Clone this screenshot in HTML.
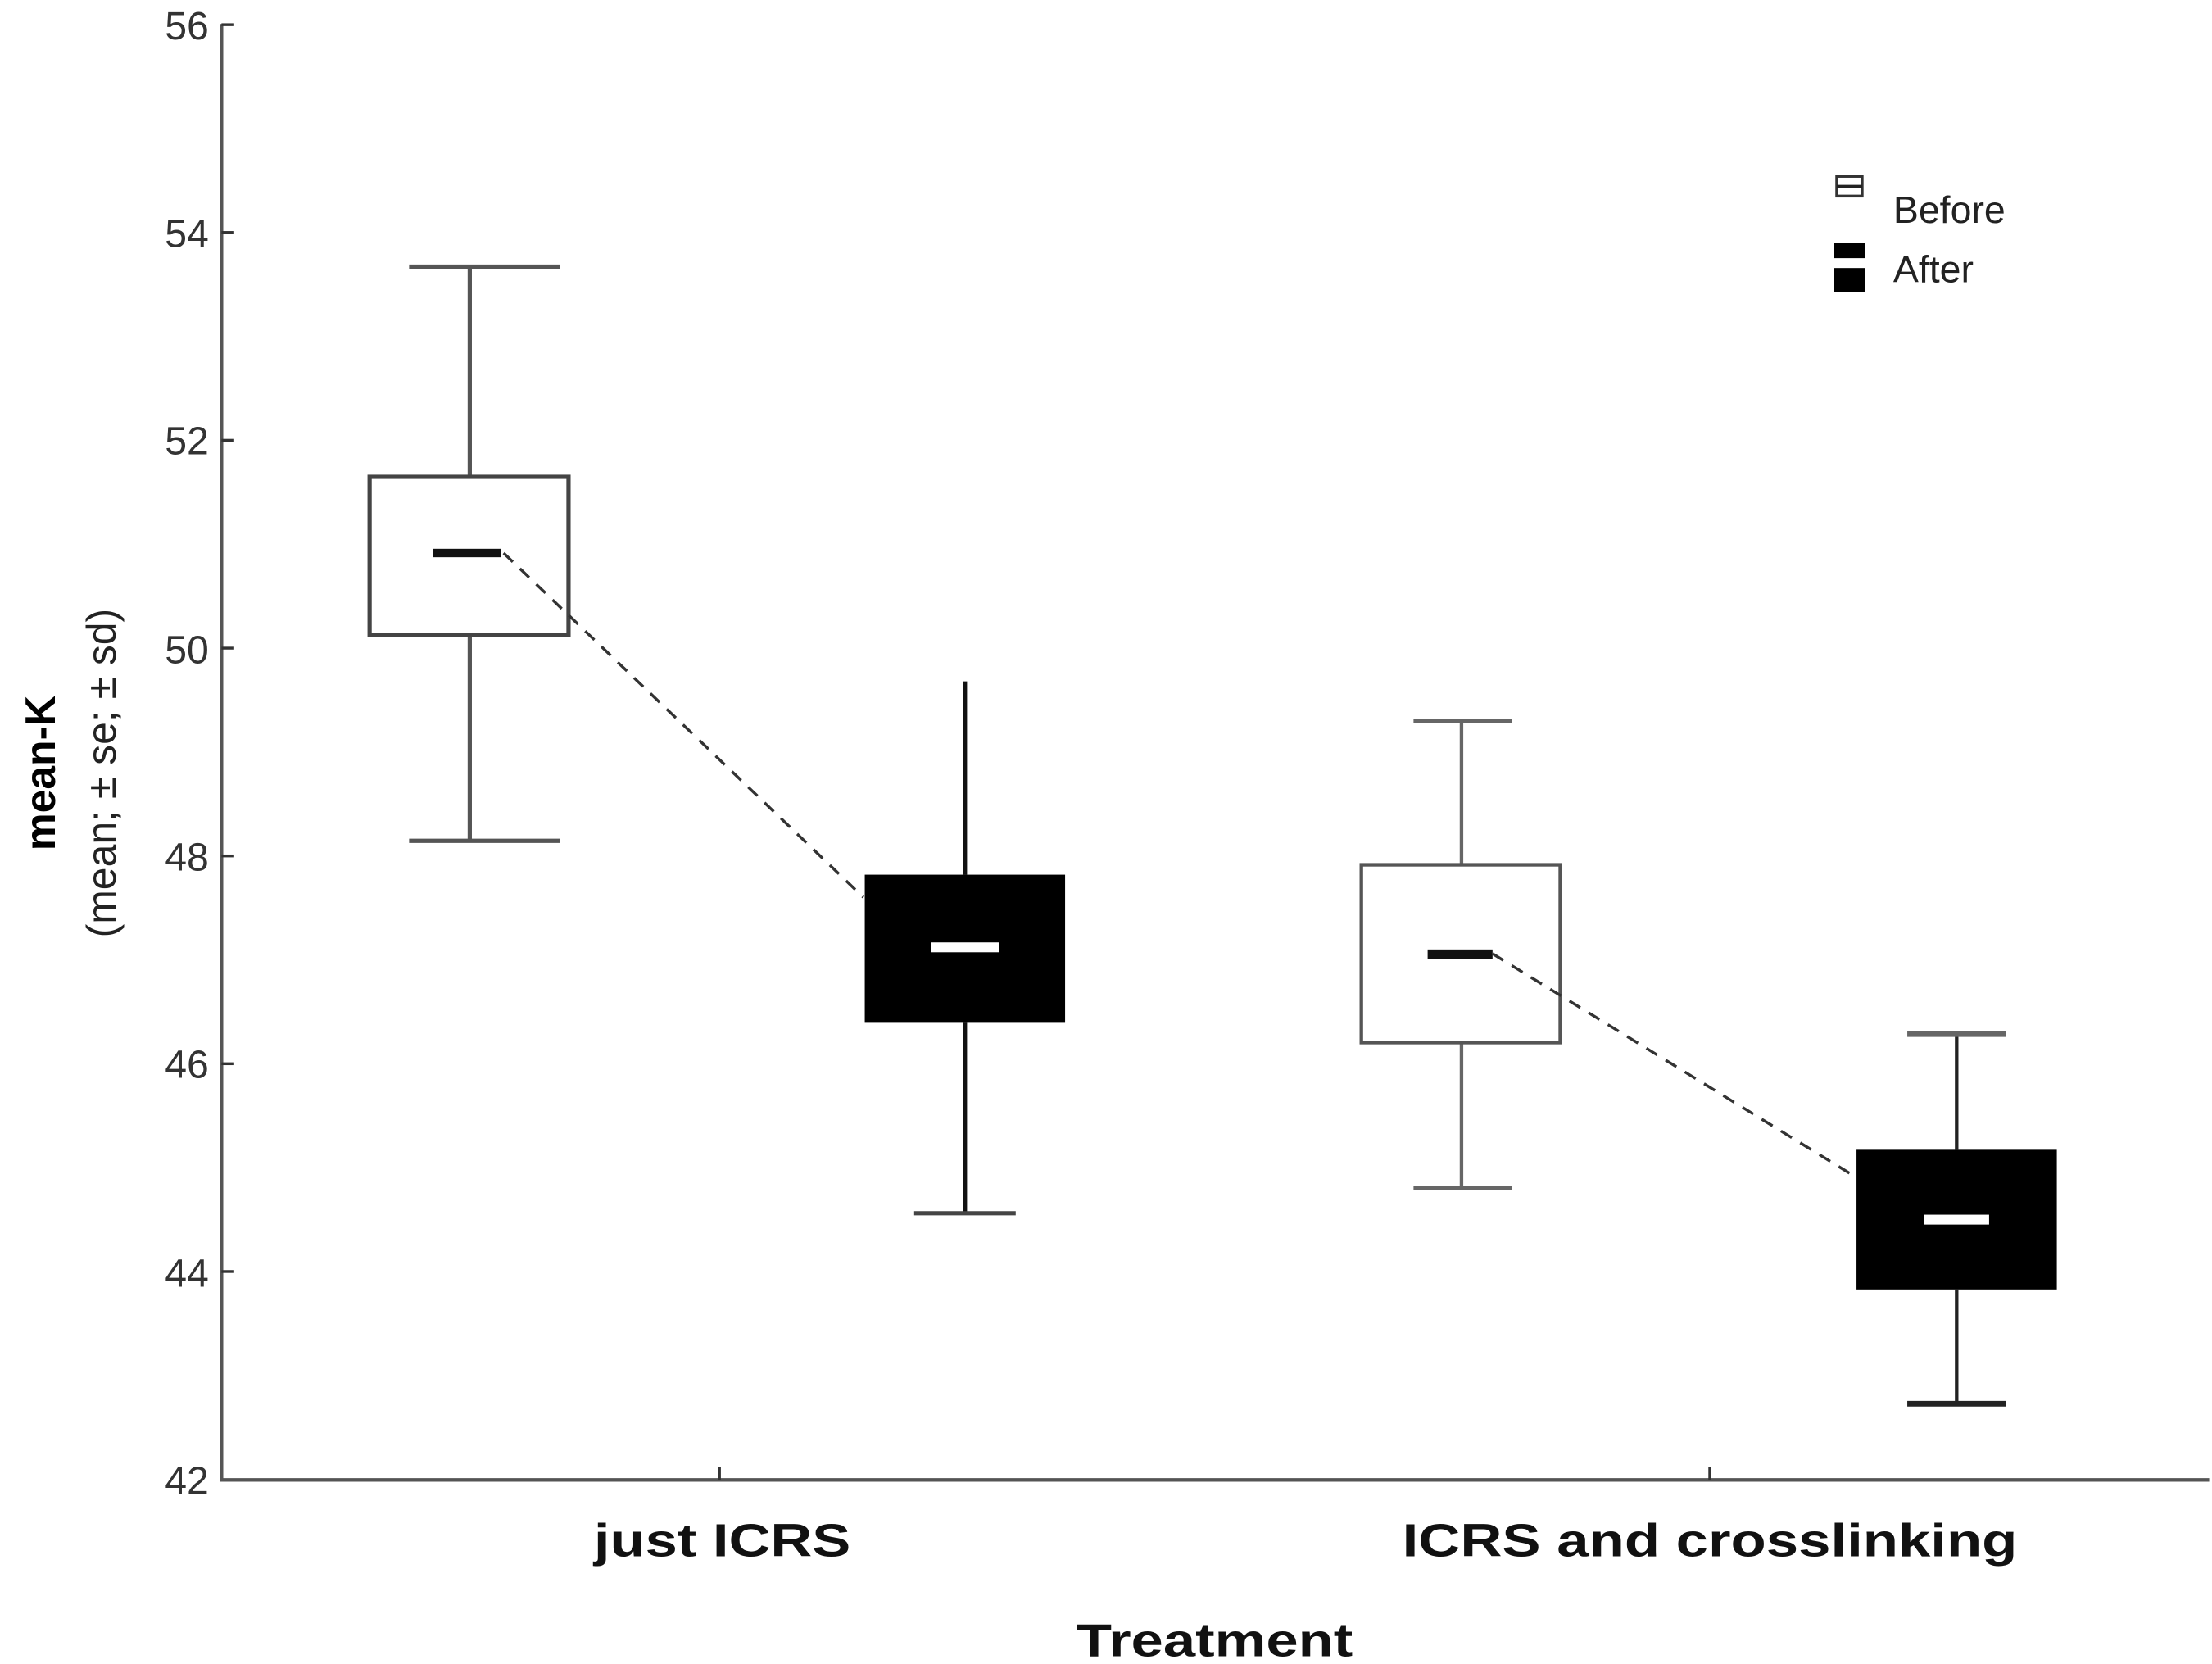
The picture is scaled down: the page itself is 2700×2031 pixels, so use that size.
<!DOCTYPE html>
<html><head><style>html,body{margin:0;padding:0;background:#fff}svg{display:block}</style></head>
<body>
<svg width="2700" height="2031" viewBox="0 0 1568 1179.5" preserveAspectRatio="none" xmlns="http://www.w3.org/2000/svg" font-family="Liberation Sans, sans-serif">
<rect width="1568" height="1179.5" fill="#fff"/>
<!-- axes -->
<line x1="157" y1="17" x2="157" y2="1049" stroke="#555" stroke-width="2.5"/>
<line x1="156" y1="1049" x2="1566" y2="1049" stroke="#555" stroke-width="2.5"/>
<g stroke="#333" stroke-width="2">
<line x1="157" y1="17.5" x2="166" y2="17.5"/>
<line x1="157" y1="164.8" x2="166" y2="164.8"/>
<line x1="157" y1="312.1" x2="166" y2="312.1"/>
<line x1="157" y1="459.4" x2="166" y2="459.4"/>
<line x1="157" y1="606.7" x2="166" y2="606.7"/>
<line x1="157" y1="754" x2="166" y2="754"/>
<line x1="157" y1="901.3" x2="166" y2="901.3"/>
<line x1="510" y1="1040" x2="510" y2="1049"/>
<line x1="1212" y1="1040" x2="1212" y2="1049"/>
</g>
<g font-size="28" fill="#333" text-anchor="end">
<text x="148" y="28">56</text>
<text x="148" y="175">54</text>
<text x="148" y="322">52</text>
<text x="148" y="470">50</text>
<text x="148" y="617">48</text>
<text x="148" y="764">46</text>
<text x="148" y="912">44</text>
<text x="148" y="1059">42</text>
</g>
<text transform="translate(39,548) rotate(-90)" text-anchor="middle" font-size="30" font-weight="bold" fill="#000">mean-K</text>
<text transform="translate(82,548) rotate(-90)" text-anchor="middle" font-size="29" fill="#222">(mean; ± se; ± sd)</text>
<g font-size="33" font-weight="bold" text-anchor="middle" fill="#111">
<text x="512" y="1103" textLength="182" lengthAdjust="spacingAndGlyphs">just ICRS</text>
<text x="1212" y="1103" textLength="436" lengthAdjust="spacingAndGlyphs">ICRS and crosslinking</text>
<text x="861" y="1174" textLength="196" lengthAdjust="spacingAndGlyphs">Treatment</text>
</g>
<!-- box1 -->
<g stroke="#555" stroke-width="3">
<line x1="333" y1="189" x2="333" y2="338"/><line x1="333" y1="450" x2="333" y2="596"/>
<line x1="290" y1="189" x2="397" y2="189"/><line x1="290" y1="596" x2="397" y2="596"/>
<rect x="262" y="338" width="141" height="112" fill="#fff" stroke="#444"/>
</g>
<rect x="307" y="389" width="48" height="6" fill="#111"/>
<!-- box2 -->
<g stroke="#111" stroke-width="3">
<line x1="684" y1="483" x2="684" y2="620"/><line x1="684" y1="725" x2="684" y2="860"/>
<line x1="648" y1="860" x2="720" y2="860" stroke="#444"/>
</g>
<rect x="613" y="620" width="142" height="105" fill="#000"/>
<rect x="660" y="668" width="48" height="7" fill="#fff"/>
<!-- box3 -->
<g stroke="#666" stroke-width="2.5">
<line x1="1036" y1="511" x2="1036" y2="613"/><line x1="1036" y1="739" x2="1036" y2="842"/>
<line x1="1002" y1="511" x2="1072" y2="511"/><line x1="1002" y1="842" x2="1072" y2="842"/>
<rect x="965" y="613" width="141" height="126" fill="#fff" stroke="#555"/>
</g>
<rect x="1012" y="673" width="46" height="7" fill="#111"/>
<!-- box4 -->
<g stroke="#222" stroke-width="2.5">
<line x1="1387" y1="733" x2="1387" y2="815"/><line x1="1387" y1="914" x2="1387" y2="995"/>
<line x1="1352" y1="733" x2="1422" y2="733" stroke="#666" stroke-width="4"/><line x1="1352" y1="995" x2="1422" y2="995" stroke-width="4"/>
</g>
<rect x="1316" y="815" width="142" height="99" fill="#000"/>
<rect x="1364" y="861" width="46" height="7" fill="#fff"/>
<!-- dashed connectors -->
<polyline points="357,392 612,636" fill="none" stroke="#333" stroke-width="2" stroke-dasharray="9,7"/>
<polyline points="1058,676 1315,834" fill="none" stroke="#333" stroke-width="2" stroke-dasharray="9,7"/>
<!-- legend -->
<rect x="1302" y="125" width="18" height="14" fill="#fff" stroke="#333" stroke-width="2"/>
<line x1="1302" y1="132" x2="1320" y2="132" stroke="#222" stroke-width="2"/>
<rect x="1300" y="172" width="22" height="11" fill="#000"/>
<rect x="1300" y="190" width="22" height="17" fill="#000"/>
<text x="1342" y="158" font-size="27" fill="#222">Before</text>
<text x="1342" y="200" font-size="27" fill="#222">After</text>
</svg>
</body></html>
